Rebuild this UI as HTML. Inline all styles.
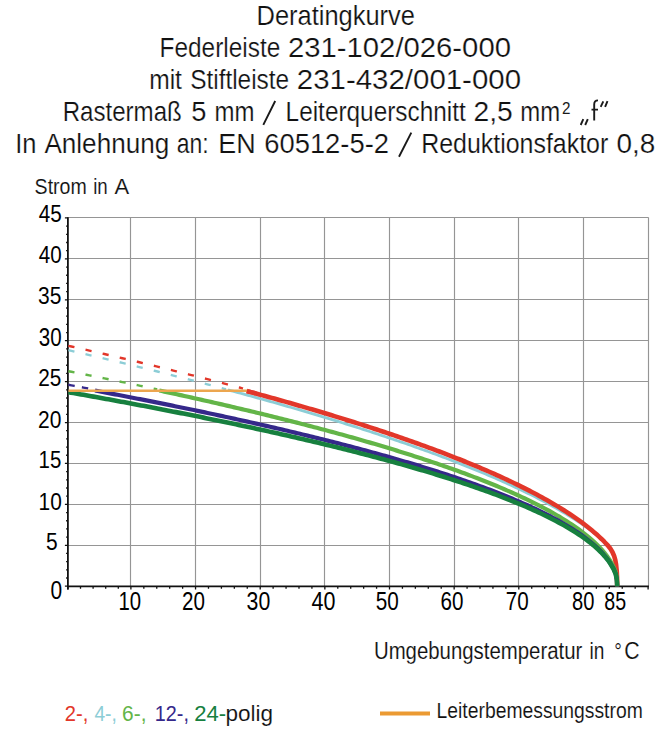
<!DOCTYPE html>
<html><head><meta charset="utf-8"><style>
html,body{margin:0;padding:0;background:#fff;}
body{width:672px;height:744px;overflow:hidden;font-family:"Liberation Sans",sans-serif;}
svg{display:block;}
</style></head><body>
<svg width="672" height="744" viewBox="0 0 672 744">
<rect width="672" height="744" fill="#fff"/>
<line x1="130.50" y1="217.5" x2="130.50" y2="586.3" stroke="#959595" stroke-width="1.15"/>
<line x1="195.50" y1="217.5" x2="195.50" y2="586.3" stroke="#959595" stroke-width="1.15"/>
<line x1="260.50" y1="217.5" x2="260.50" y2="586.3" stroke="#959595" stroke-width="1.15"/>
<line x1="324.50" y1="217.5" x2="324.50" y2="586.3" stroke="#959595" stroke-width="1.15"/>
<line x1="389.50" y1="217.5" x2="389.50" y2="586.3" stroke="#959595" stroke-width="1.15"/>
<line x1="454.50" y1="217.5" x2="454.50" y2="586.3" stroke="#959595" stroke-width="1.15"/>
<line x1="518.50" y1="217.5" x2="518.50" y2="586.3" stroke="#959595" stroke-width="1.15"/>
<line x1="583.50" y1="217.5" x2="583.50" y2="586.3" stroke="#959595" stroke-width="1.15"/>
<line x1="648.50" y1="217.5" x2="648.50" y2="586.3" stroke="#959595" stroke-width="1.15"/>
<line x1="67.9" y1="545.50" x2="648.6" y2="545.50" stroke="#959595" stroke-width="1.15"/>
<line x1="67.9" y1="504.50" x2="648.6" y2="504.50" stroke="#959595" stroke-width="1.15"/>
<line x1="67.9" y1="463.50" x2="648.6" y2="463.50" stroke="#959595" stroke-width="1.15"/>
<line x1="67.9" y1="422.50" x2="648.6" y2="422.50" stroke="#959595" stroke-width="1.15"/>
<line x1="67.9" y1="381.50" x2="648.6" y2="381.50" stroke="#959595" stroke-width="1.15"/>
<line x1="67.9" y1="340.50" x2="648.6" y2="340.50" stroke="#959595" stroke-width="1.15"/>
<line x1="67.9" y1="299.50" x2="648.6" y2="299.50" stroke="#959595" stroke-width="1.15"/>
<line x1="67.9" y1="258.50" x2="648.6" y2="258.50" stroke="#959595" stroke-width="1.15"/>
<line x1="67.9" y1="217.50" x2="648.6" y2="217.50" stroke="#959595" stroke-width="1.15"/>
<path d="M64.90 586.20H67.9 M66.10 578.02H67.9 M66.10 569.83H67.9 M66.10 561.65H67.9 M66.10 553.47H67.9 M64.90 545.29H67.9 M66.10 537.10H67.9 M66.10 528.92H67.9 M66.10 520.74H67.9 M66.10 512.55H67.9 M64.90 504.37H67.9 M66.10 496.19H67.9 M66.10 488.00H67.9 M66.10 479.82H67.9 M66.10 471.64H67.9 M64.90 463.46H67.9 M66.10 455.27H67.9 M66.10 447.09H67.9 M66.10 438.91H67.9 M66.10 430.72H67.9 M64.90 422.54H67.9 M66.10 414.36H67.9 M66.10 406.17H67.9 M66.10 397.99H67.9 M66.10 389.81H67.9 M64.90 381.63H67.9 M66.10 373.44H67.9 M66.10 365.26H67.9 M66.10 357.08H67.9 M66.10 348.89H67.9 M64.90 340.71H67.9 M66.10 332.53H67.9 M66.10 324.34H67.9 M66.10 316.16H67.9 M66.10 307.98H67.9 M64.90 299.80H67.9 M66.10 291.61H67.9 M66.10 283.43H67.9 M66.10 275.25H67.9 M66.10 267.06H67.9 M64.90 258.88H67.9 M66.10 250.70H67.9 M66.10 242.51H67.9 M66.10 234.33H67.9 M66.10 226.15H67.9 M64.90 217.97H67.9 M67.90 586.4V589.4 M80.50 586.4V588.8 M93.10 586.4V588.8 M105.70 586.4V588.8 M118.30 586.4V588.8 M130.90 586.4V589.4 M143.83 586.4V588.8 M156.76 586.4V588.8 M169.69 586.4V588.8 M182.62 586.4V588.8 M195.55 586.4V589.4 M208.48 586.4V588.8 M221.41 586.4V588.8 M234.34 586.4V588.8 M247.27 586.4V588.8 M260.20 586.4V589.4 M273.13 586.4V588.8 M286.06 586.4V588.8 M298.99 586.4V588.8 M311.92 586.4V588.8 M324.85 586.4V589.4 M337.78 586.4V588.8 M350.71 586.4V588.8 M363.64 586.4V588.8 M376.57 586.4V588.8 M389.50 586.4V589.4 M402.43 586.4V588.8 M415.36 586.4V588.8 M428.29 586.4V588.8 M441.22 586.4V588.8 M454.15 586.4V589.4 M467.08 586.4V588.8 M480.01 586.4V588.8 M492.94 586.4V588.8 M505.87 586.4V588.8 M518.80 586.4V589.4 M531.73 586.4V588.8 M544.66 586.4V588.8 M557.59 586.4V588.8 M570.52 586.4V588.8 M583.45 586.4V589.4 M596.38 586.4V588.8 M609.31 586.4V588.8 M622.24 586.4V588.8 M635.17 586.4V588.8 M648.10 586.4V589.4" stroke="#111" stroke-width="1.3" fill="none"/>
<line x1="67.9" y1="217.3" x2="67.9" y2="589.6" stroke="#111" stroke-width="1.8"/>
<line x1="67.0" y1="586.35" x2="648.9" y2="586.35" stroke="#111" stroke-width="1.6"/>
<polyline points="68.40,345.81 71.40,346.48 74.40,347.16 77.40,347.84 80.40,348.52 83.40,349.20 86.40,349.88 89.40,350.57 92.40,351.25 95.40,351.94 98.40,352.63 101.40,353.33 104.40,354.02 107.40,354.72 110.40,355.41 113.40,356.12 116.40,356.82 119.40,357.52 122.40,358.23 125.40,358.94 128.40,359.65 131.40,360.36 134.40,361.07 137.40,361.79 140.40,362.51 143.40,363.23 146.40,363.95 149.40,364.67 152.40,365.40 155.40,366.13 158.40,366.86 161.40,367.60 164.40,368.33 167.40,369.07 170.40,369.81 173.40,370.55 176.40,371.30 179.40,372.05 182.40,372.80 185.40,373.55 188.40,374.30 191.40,375.06 194.40,375.82 197.40,376.58 200.40,377.35 203.40,378.11 206.40,378.88 209.40,379.66 212.40,380.43 215.40,381.21 218.40,381.99 221.40,382.77 224.40,383.56 227.40,384.35 230.40,385.14 233.40,385.93 236.40,386.73 239.40,387.53 242.40,388.33 243.00,388.50" fill="none" stroke="#e2372a" stroke-width="2.4" stroke-dasharray="6.2 11.35"/>
<polyline points="68.40,350.18 71.40,350.87 74.40,351.57 77.40,352.27 80.40,352.97 83.40,353.67 86.40,354.37 89.40,355.07 92.40,355.78 95.40,356.49 98.40,357.19 101.40,357.91 104.40,358.62 107.40,359.33 110.40,360.05 113.40,360.77 116.40,361.49 119.40,362.21 122.40,362.93 125.40,363.66 128.40,364.39 131.40,365.12 134.40,365.85 137.40,366.58 140.40,367.32 143.40,368.06 146.40,368.80 149.40,369.54 152.40,370.28 155.40,371.03 158.40,371.78 161.40,372.53 164.40,373.28 167.40,374.03 170.40,374.79 173.40,375.55 176.40,376.31 179.40,377.07 182.40,377.84 185.40,378.61 188.40,379.38 191.40,380.15 194.40,380.93 197.40,381.70 200.40,382.48 203.40,383.27 206.40,384.05 209.40,384.84 212.40,385.63 215.40,386.42 218.40,387.21 221.40,388.01 224.40,388.81 226.00,389.24" fill="none" stroke="#8ccdd6" stroke-width="2.4" stroke-dasharray="6.2 11.35"/>
<polyline points="68.40,371.20 71.40,371.79 74.40,372.38 77.40,372.97 80.40,373.56 83.40,374.16 86.40,374.76 89.40,375.36 92.40,375.96 95.40,376.56 98.40,377.16 101.40,377.77 104.40,378.38 107.40,378.99 110.40,379.60 113.40,380.21 116.40,380.82 119.40,381.44 122.40,382.06 125.40,382.68 128.40,383.30 131.40,383.93 134.40,384.55 137.40,385.18 140.40,385.81 143.40,386.44 146.40,387.07 149.40,387.71 152.40,388.35 155.40,388.99 157.20,389.37" fill="none" stroke="#63b548" stroke-width="2.4" stroke-dasharray="6.2 11.2"/>
<polyline points="68.40,384.79 71.40,385.35 74.40,385.90 77.40,386.45 80.40,387.01 83.40,387.56 86.40,388.12 89.40,388.68 92.40,389.24 95.00,389.73" fill="none" stroke="#35288a" stroke-width="2.4" stroke-dasharray="6.4 7.3"/>
<path d="M228.00,389.88 L230.50,390.55 233.00,391.22 235.50,391.90 238.00,392.57 240.50,393.25 243.00,393.93 245.50,394.62 248.00,395.30 250.50,395.99 253.00,396.68 255.50,397.37 258.00,398.06 260.50,398.76 263.00,399.45 265.50,400.15 268.00,400.85 270.50,401.56 273.00,402.26 275.50,402.97 278.00,403.68 280.50,404.39 283.00,405.11 285.50,405.83 288.00,406.54 290.50,407.27 293.00,407.99 295.50,408.72 298.00,409.45 300.50,410.18 303.00,410.91 305.50,411.65 308.00,412.39 310.50,413.13 313.00,413.87 315.50,414.62 318.00,415.37 320.50,416.12 323.00,416.88 325.50,417.63 328.00,418.39 330.50,419.16 333.00,419.92 335.50,420.69 338.00,421.46 340.50,422.24 343.00,423.01 345.50,423.80 348.00,424.58 350.50,425.37 353.00,426.16 355.50,426.95 358.00,427.74 360.50,428.54 363.00,429.35 365.50,430.15 368.00,430.96 370.50,431.78 373.00,432.59 375.50,433.41 378.00,434.24 380.50,435.06 383.00,435.90 385.50,436.73 388.00,437.57 390.50,438.41 393.00,439.26 395.50,440.11 398.00,440.96 400.50,441.82 403.00,442.68 405.50,443.55 408.00,444.42 410.50,445.30 413.00,446.18 415.50,447.06 418.00,447.95 420.50,448.84 423.00,449.74 425.50,450.65 428.00,451.55 430.50,452.47 433.00,453.39 435.50,454.31 438.00,455.24 440.50,456.17 443.00,457.11 445.50,458.06 448.00,459.01 450.50,459.97 453.00,460.93 455.50,461.90 458.00,462.87 460.50,463.85 463.00,464.84 465.50,465.83 468.00,466.84 470.50,467.84 473.00,468.86 475.50,469.88 478.00,470.91 480.50,471.95 483.00,472.99 485.50,474.04 488.00,475.10 490.50,476.17 493.00,477.25 495.50,478.34 498.00,479.43 500.50,480.53 503.00,481.65 505.50,482.77 508.00,483.90 510.50,485.05 513.00,486.20 515.50,487.37 518.00,488.54 520.50,489.73 523.00,490.93 525.50,492.14 528.00,493.37 530.50,494.60 533.00,495.86 535.50,497.12 538.00,498.40 540.50,499.70 543.00,501.01 545.50,502.34 548.00,503.69 550.50,505.05 553.00,506.43 555.50,507.84 558.00,509.26 560.50,510.70 563.00,512.17 565.50,513.66 568.00,515.18 570.50,516.72 573.00,518.29 575.50,519.90 578.00,521.53 580.50,523.20 583.00,524.90 585.50,526.65 588.00,528.43 590.50,530.26 593.00,532.15 595.50,534.08 598.00,536.08 600.50,538.14 603.00,540.28 605.50,542.50 606.00,542.95 C614.74,550.93 617.20,560.45 617.20,586.2" fill="none" stroke="#8ccdd6" stroke-width="2.8" stroke-linejoin="round"/>
<path d="M246.80,391.02 L249.30,391.69 251.80,392.37 254.30,393.05 256.80,393.73 259.30,394.42 261.80,395.10 264.30,395.79 266.80,396.48 269.30,397.17 271.80,397.87 274.30,398.57 276.80,399.27 279.30,399.97 281.80,400.67 284.30,401.38 286.80,402.09 289.30,402.80 291.80,403.52 294.30,404.23 296.80,404.95 299.30,405.68 301.80,406.40 304.30,407.13 306.80,407.86 309.30,408.59 311.80,409.33 314.30,410.07 316.80,410.81 319.30,411.55 321.80,412.30 324.30,413.05 326.80,413.80 329.30,414.56 331.80,415.32 334.30,416.08 336.80,416.85 339.30,417.61 341.80,418.38 344.30,419.16 346.80,419.94 349.30,420.72 351.80,421.50 354.30,422.29 356.80,423.08 359.30,423.88 361.80,424.68 364.30,425.48 366.80,426.28 369.30,427.09 371.80,427.91 374.30,428.72 376.80,429.54 379.30,430.37 381.80,431.20 384.30,432.03 386.80,432.87 389.30,433.71 391.80,434.55 394.30,435.40 396.80,436.26 399.30,437.11 401.80,437.98 404.30,438.84 406.80,439.72 409.30,440.59 411.80,441.47 414.30,442.36 416.80,443.25 419.30,444.15 421.80,445.05 424.30,445.96 426.80,446.87 429.30,447.79 431.80,448.71 434.30,449.64 436.80,450.57 439.30,451.51 441.80,452.46 444.30,453.41 446.80,454.37 449.30,455.33 451.80,456.30 454.30,457.28 456.80,458.27 459.30,459.26 461.80,460.26 464.30,461.26 466.80,462.28 469.30,463.30 471.80,464.32 474.30,465.36 476.80,466.41 479.30,467.46 481.80,468.52 484.30,469.59 486.80,470.67 489.30,471.75 491.80,472.85 494.30,473.96 496.80,475.08 499.30,476.20 501.80,477.34 504.30,478.49 506.80,479.65 509.30,480.82 511.80,482.00 514.30,483.20 516.80,484.40 519.30,485.63 521.80,486.86 524.30,488.11 526.80,489.37 529.30,490.65 531.80,491.94 534.30,493.25 536.80,494.58 539.30,495.92 541.80,497.28 544.30,498.66 546.80,500.06 549.30,501.49 551.80,502.93 554.30,504.39 556.80,505.89 559.30,507.40 561.80,508.94 564.30,510.51 566.80,512.11 569.30,513.74 571.80,515.41 574.30,517.11 576.80,518.85 579.30,520.63 581.80,522.46 584.30,524.33 586.80,526.25 589.30,528.24 591.80,530.28 594.30,532.39 596.80,534.58 599.30,536.86 601.80,539.23 604.30,541.72 606.80,544.33 608.00,545.64 C615.18,553.58 617.20,562.50 617.20,586.2" fill="none" stroke="#e2372a" stroke-width="4.6" stroke-linejoin="round"/>
<path d="M159.30,390.52 L161.80,391.06 164.30,391.60 166.80,392.14 169.30,392.68 171.80,393.22 174.30,393.77 176.80,394.31 179.30,394.86 181.80,395.41 184.30,395.96 186.80,396.51 189.30,397.07 191.80,397.62 194.30,398.18 196.80,398.74 199.30,399.30 201.80,399.86 204.30,400.43 206.80,400.99 209.30,401.56 211.80,402.13 214.30,402.70 216.80,403.27 219.30,403.85 221.80,404.42 224.30,405.00 226.80,405.58 229.30,406.16 231.80,406.75 234.30,407.33 236.80,407.92 239.30,408.51 241.80,409.10 244.30,409.69 246.80,410.29 249.30,410.88 251.80,411.48 254.30,412.08 256.80,412.69 259.30,413.29 261.80,413.90 264.30,414.51 266.80,415.12 269.30,415.73 271.80,416.35 274.30,416.97 276.80,417.59 279.30,418.21 281.80,418.84 284.30,419.46 286.80,420.09 289.30,420.73 291.80,421.36 294.30,422.00 296.80,422.64 299.30,423.28 301.80,423.92 304.30,424.57 306.80,425.22 309.30,425.87 311.80,426.53 314.30,427.18 316.80,427.84 319.30,428.51 321.80,429.17 324.30,429.84 326.80,430.51 329.30,431.19 331.80,431.86 334.30,432.54 336.80,433.23 339.30,433.91 341.80,434.60 344.30,435.29 346.80,435.99 349.30,436.69 351.80,437.39 354.30,438.09 356.80,438.80 359.30,439.51 361.80,440.23 364.30,440.95 366.80,441.67 369.30,442.39 371.80,443.12 374.30,443.86 376.80,444.59 379.30,445.33 381.80,446.08 384.30,446.83 386.80,447.58 389.30,448.34 391.80,449.10 394.30,449.86 396.80,450.63 399.30,451.40 401.80,452.18 404.30,452.96 406.80,453.75 409.30,454.54 411.80,455.34 414.30,456.14 416.80,456.95 419.30,457.76 421.80,458.57 424.30,459.39 426.80,460.22 429.30,461.05 431.80,461.89 434.30,462.73 436.80,463.58 439.30,464.44 441.80,465.30 444.30,466.16 446.80,467.04 449.30,467.92 451.80,468.80 454.30,469.69 456.80,470.59 459.30,471.50 461.80,472.41 464.30,473.33 466.80,474.26 469.30,475.20 471.80,476.14 474.30,477.09 476.80,478.05 479.30,479.02 481.80,480.00 484.30,480.98 486.80,481.98 489.30,482.98 491.80,484.00 494.30,485.02 496.80,486.06 499.30,487.10 501.80,488.16 504.30,489.23 506.80,490.31 509.30,491.40 511.80,492.50 514.30,493.62 516.80,494.75 519.30,495.89 521.80,497.05 524.30,498.23 526.80,499.42 529.30,500.62 531.80,501.85 534.30,503.09 536.80,504.34 539.30,505.62 541.80,506.92 544.30,508.24 546.80,509.58 549.30,510.95 551.80,512.34 554.30,513.76 556.80,515.20 559.30,516.67 561.80,518.18 564.30,519.72 566.80,521.29 569.30,522.90 571.80,524.56 574.30,526.26 576.80,528.00 579.30,529.80 581.80,531.66 584.30,533.58 586.80,535.58 589.30,537.65 591.80,539.81 594.30,542.08 596.80,544.47 599.30,546.99 601.80,549.69 604.30,552.59 606.80,555.76 608.00,557.40 C615.18,567.48 617.20,573.82 617.20,586.2" fill="none" stroke="#63b548" stroke-width="4.2" stroke-linejoin="round"/>
<path d="M95.00,390.53 L97.50,391.00 100.00,391.47 102.50,391.94 105.00,392.42 107.50,392.89 110.00,393.37 112.50,393.85 115.00,394.33 117.50,394.80 120.00,395.29 122.50,395.77 125.00,396.25 127.50,396.74 130.00,397.22 132.50,397.71 135.00,398.20 137.50,398.69 140.00,399.18 142.50,399.67 145.00,400.16 147.50,400.66 150.00,401.15 152.50,401.65 155.00,402.15 157.50,402.65 160.00,403.15 162.50,403.65 165.00,404.16 167.50,404.66 170.00,405.17 172.50,405.68 175.00,406.19 177.50,406.70 180.00,407.21 182.50,407.72 185.00,408.24 187.50,408.76 190.00,409.27 192.50,409.79 195.00,410.32 197.50,410.84 200.00,411.36 202.50,411.89 205.00,412.42 207.50,412.95 210.00,413.48 212.50,414.01 215.00,414.54 217.50,415.08 220.00,415.62 222.50,416.16 225.00,416.70 227.50,417.24 230.00,417.79 232.50,418.33 235.00,418.88 237.50,419.43 240.00,419.98 242.50,420.53 245.00,421.09 247.50,421.65 250.00,422.21 252.50,422.77 255.00,423.33 257.50,423.89 260.00,424.46 262.50,425.03 265.00,425.60 267.50,426.17 270.00,426.75 272.50,427.33 275.00,427.90 277.50,428.49 280.00,429.07 282.50,429.65 285.00,430.24 287.50,430.83 290.00,431.42 292.50,432.02 295.00,432.61 297.50,433.21 300.00,433.81 302.50,434.42 305.00,435.02 307.50,435.63 310.00,436.24 312.50,436.86 315.00,437.47 317.50,438.09 320.00,438.71 322.50,439.33 325.00,439.96 327.50,440.59 330.00,441.22 332.50,441.86 335.00,442.49 337.50,443.13 340.00,443.77 342.50,444.42 345.00,445.07 347.50,445.72 350.00,446.38 352.50,447.03 355.00,447.69 357.50,448.36 360.00,449.02 362.50,449.70 365.00,450.37 367.50,451.05 370.00,451.73 372.50,452.41 375.00,453.10 377.50,453.79 380.00,454.48 382.50,455.18 385.00,455.88 387.50,456.59 390.00,457.30 392.50,458.01 395.00,458.73 397.50,459.45 400.00,460.17 402.50,460.90 405.00,461.64 407.50,462.38 410.00,463.12 412.50,463.86 415.00,464.62 417.50,465.37 420.00,466.13 422.50,466.90 425.00,467.67 427.50,468.45 430.00,469.23 432.50,470.01 435.00,470.80 437.50,471.60 440.00,472.40 442.50,473.21 445.00,474.02 447.50,474.84 450.00,475.67 452.50,476.50 455.00,477.34 457.50,478.18 460.00,479.03 462.50,479.89 465.00,480.76 467.50,481.63 470.00,482.51 472.50,483.39 475.00,484.29 477.50,485.19 480.00,486.10 482.50,487.02 485.00,487.95 487.50,488.88 490.00,489.83 492.50,490.78 495.00,491.74 497.50,492.72 500.00,493.70 502.50,494.69 505.00,495.70 507.50,496.71 510.00,497.74 512.50,498.78 515.00,499.83 517.50,500.90 520.00,501.97 522.50,503.07 525.00,504.17 527.50,505.29 530.00,506.43 532.50,507.58 535.00,508.75 537.50,509.94 540.00,511.15 542.50,512.37 545.00,513.62 547.50,514.89 550.00,516.18 552.50,517.49 555.00,518.83 557.50,520.20 560.00,521.59 562.50,523.02 565.00,524.47 567.50,525.97 570.00,527.50 572.50,529.07 575.00,530.68 577.50,532.34 580.00,534.06 582.50,535.83 585.00,537.66 587.50,539.57 590.00,541.55 592.50,543.63 595.00,545.81 597.50,548.11 600.00,550.56 602.50,553.18 605.00,556.02 607.50,559.16 610.00,562.69 C615.62,571.21 617.20,576.38 617.20,586.2" fill="none" stroke="#35288a" stroke-width="4.2" stroke-linejoin="round"/>
<path d="M68.50,392.17 L71.00,392.61 73.50,393.06 76.00,393.50 78.50,393.94 81.00,394.39 83.50,394.83 86.00,395.28 88.50,395.73 91.00,396.18 93.50,396.63 96.00,397.08 98.50,397.53 101.00,397.98 103.50,398.44 106.00,398.89 108.50,399.35 111.00,399.81 113.50,400.27 116.00,400.73 118.50,401.19 121.00,401.65 123.50,402.11 126.00,402.58 128.50,403.04 131.00,403.51 133.50,403.98 136.00,404.45 138.50,404.92 141.00,405.39 143.50,405.86 146.00,406.34 148.50,406.81 151.00,407.29 153.50,407.77 156.00,408.25 158.50,408.73 161.00,409.21 163.50,409.70 166.00,410.18 168.50,410.67 171.00,411.15 173.50,411.64 176.00,412.13 178.50,412.63 181.00,413.12 183.50,413.61 186.00,414.11 188.50,414.61 191.00,415.11 193.50,415.61 196.00,416.11 198.50,416.61 201.00,417.12 203.50,417.62 206.00,418.13 208.50,418.64 211.00,419.15 213.50,419.66 216.00,420.18 218.50,420.69 221.00,421.21 223.50,421.73 226.00,422.25 228.50,422.77 231.00,423.30 233.50,423.82 236.00,424.35 238.50,424.88 241.00,425.41 243.50,425.95 246.00,426.48 248.50,427.02 251.00,427.56 253.50,428.10 256.00,428.64 258.50,429.18 261.00,429.73 263.50,430.27 266.00,430.82 268.50,431.38 271.00,431.93 273.50,432.49 276.00,433.04 278.50,433.60 281.00,434.16 283.50,434.73 286.00,435.29 288.50,435.86 291.00,436.43 293.50,437.01 296.00,437.58 298.50,438.16 301.00,438.74 303.50,439.32 306.00,439.90 308.50,440.49 311.00,441.08 313.50,441.67 316.00,442.26 318.50,442.86 321.00,443.46 323.50,444.06 326.00,444.66 328.50,445.27 331.00,445.88 333.50,446.49 336.00,447.10 338.50,447.72 341.00,448.34 343.50,448.96 346.00,449.59 348.50,450.22 351.00,450.85 353.50,451.48 356.00,452.12 358.50,452.76 361.00,453.40 363.50,454.05 366.00,454.70 368.50,455.35 371.00,456.01 373.50,456.67 376.00,457.33 378.50,458.00 381.00,458.67 383.50,459.34 386.00,460.02 388.50,460.70 391.00,461.39 393.50,462.08 396.00,462.77 398.50,463.46 401.00,464.16 403.50,464.87 406.00,465.58 408.50,466.29 411.00,467.01 413.50,467.73 416.00,468.46 418.50,469.19 421.00,469.92 423.50,470.66 426.00,471.41 428.50,472.15 431.00,472.91 433.50,473.67 436.00,474.43 438.50,475.20 441.00,475.98 443.50,476.76 446.00,477.55 448.50,478.34 451.00,479.14 453.50,479.94 456.00,480.75 458.50,481.57 461.00,482.39 463.50,483.22 466.00,484.06 468.50,484.90 471.00,485.76 473.50,486.61 476.00,487.48 478.50,488.35 481.00,489.23 483.50,490.12 486.00,491.02 488.50,491.93 491.00,492.84 493.50,493.77 496.00,494.70 498.50,495.64 501.00,496.60 503.50,497.56 506.00,498.54 508.50,499.52 511.00,500.52 513.50,501.53 516.00,502.55 518.50,503.58 521.00,504.63 523.50,505.69 526.00,506.76 528.50,507.85 531.00,508.96 533.50,510.08 536.00,511.21 538.50,512.37 541.00,513.54 543.50,514.74 546.00,515.95 548.50,517.18 551.00,518.44 553.50,519.72 556.00,521.03 558.50,522.36 561.00,523.72 563.50,525.11 566.00,526.54 568.50,528.00 571.00,529.49 573.50,531.03 576.00,532.61 578.50,534.24 581.00,535.93 583.50,537.67 586.00,539.47 588.50,541.35 591.00,543.31 593.50,545.36 596.00,547.53 598.50,549.81 601.00,552.26 603.50,554.89 606.00,557.76 608.50,560.95 610.00,563.07 C615.62,571.37 617.20,576.46 617.20,586.2" fill="none" stroke="#17803f" stroke-width="4.6" stroke-linejoin="round"/>
<line x1="68.5" y1="390.80" x2="249" y2="390.80" stroke="#eca64f" stroke-width="2.5"/>
<polyline points="246.80,391.02 248.80,391.56 250.80,392.10 252.80,392.64 254.80,393.19 256.00,393.51" fill="none" stroke="#e2372a" stroke-width="4.4"/>
<path d="M263.3 124.8L275.2 101M399 156.8L411.3 132.6M580.7 125L583.3 119.2M585.2 125L587.8 119.2M600.7 106.8L603.3 101.3M605.1 106.8L607.5 101.1M594.2 120.6V104.3Q594.2 100.4 598 100.4M591.5 109.6H598" stroke="#1a1a1a" stroke-width="1.9" fill="none"/>
<text transform="matrix(0.9000 0 0 1.0000 256.50 24.55)" font-family="Liberation Sans, sans-serif" font-size="28.30" fill="#111111" stroke="#fff" stroke-width="0.22">Deratingkurve</text>
<text transform="matrix(0.8635 0 0 1.0000 159.47 56.70)" font-family="Liberation Sans, sans-serif" font-size="28.30" fill="#111111" stroke="#fff" stroke-width="0.22">Federleiste</text>
<text transform="matrix(1.0350 0 0 1.0000 287.96 56.70)" font-family="Liberation Sans, sans-serif" font-size="28.30" fill="#111111" stroke="#fff" stroke-width="0.22">231-102/026-000</text>
<text transform="matrix(0.8694 0 0 1.0000 149.16 89.00)" font-family="Liberation Sans, sans-serif" font-size="28.30" fill="#111111" stroke="#fff" stroke-width="0.22">mit</text>
<text transform="matrix(0.8628 0 0 1.0000 190.14 89.00)" font-family="Liberation Sans, sans-serif" font-size="28.30" fill="#111111" stroke="#fff" stroke-width="0.22">Stiftleiste</text>
<text transform="matrix(1.0402 0 0 1.0000 296.86 89.00)" font-family="Liberation Sans, sans-serif" font-size="28.30" fill="#111111" stroke="#fff" stroke-width="0.22">231-432/001-000</text>
<text transform="matrix(0.8511 0 0 1.0000 62.70 120.60)" font-family="Liberation Sans, sans-serif" font-size="28.30" fill="#111111" stroke="#fff" stroke-width="0.22">Rasterma&#223;</text>
<text transform="matrix(0.9643 0 0 1.0000 191.34 120.60)" font-family="Liberation Sans, sans-serif" font-size="28.30" fill="#111111" stroke="#fff" stroke-width="0.22">5</text>
<text transform="matrix(0.8477 0 0 1.0000 214.55 120.60)" font-family="Liberation Sans, sans-serif" font-size="28.30" fill="#111111" stroke="#fff" stroke-width="0.22">mm</text>
<text transform="matrix(0.8614 0 0 1.0000 285.58 120.60)" font-family="Liberation Sans, sans-serif" font-size="28.30" fill="#111111" stroke="#fff" stroke-width="0.22">Leiterquerschnitt</text>
<text transform="matrix(0.9973 0 0 1.0000 473.50 120.60)" font-family="Liberation Sans, sans-serif" font-size="28.30" fill="#111111" stroke="#fff" stroke-width="0.22">2,5</text>
<text transform="matrix(0.8465 0 0 1.0000 520.21 120.60)" font-family="Liberation Sans, sans-serif" font-size="28.30" fill="#111111" stroke="#fff" stroke-width="0.22">mm</text>
<text transform="matrix(1.0143 0 0 1.0750 561.99 113.85)" font-family="Liberation Sans, sans-serif" font-size="15.00" fill="#1a1a1a">2</text>
<text transform="matrix(0.9000 0 0 1.0000 15.20 152.60)" font-family="Liberation Sans, sans-serif" font-size="28.30" fill="#111111" stroke="#fff" stroke-width="0.22">In</text>
<text transform="matrix(0.9224 0 0 1.0000 44.40 152.60)" font-family="Liberation Sans, sans-serif" font-size="28.30" fill="#111111" stroke="#fff" stroke-width="0.22">Anlehnung</text>
<text transform="matrix(0.8111 0 0 1.0000 176.69 152.60)" font-family="Liberation Sans, sans-serif" font-size="28.30" fill="#111111" stroke="#fff" stroke-width="0.22">an:</text>
<text transform="matrix(0.9514 0 0 1.0000 218.30 152.60)" font-family="Liberation Sans, sans-serif" font-size="28.30" fill="#111111" stroke="#fff" stroke-width="0.22">EN</text>
<text transform="matrix(0.9677 0 0 1.0000 264.23 152.60)" font-family="Liberation Sans, sans-serif" font-size="28.30" fill="#111111" stroke="#fff" stroke-width="0.22">60512-5-2</text>
<text transform="matrix(0.8814 0 0 1.0000 421.24 152.60)" font-family="Liberation Sans, sans-serif" font-size="28.30" fill="#111111" stroke="#fff" stroke-width="0.22">Reduktionsfaktor</text>
<text transform="matrix(0.9865 0 0 1.0000 616.51 152.60)" font-family="Liberation Sans, sans-serif" font-size="28.30" fill="#111111" stroke="#fff" stroke-width="0.22">0,8</text>
<text transform="matrix(0.8772 0 0 1.0000 34.62 193.60)" font-family="Liberation Sans, sans-serif" font-size="22.30" fill="#111111" stroke="#fff" stroke-width="0.12">Strom</text>
<text transform="matrix(0.8400 0 0 1.0000 93.16 193.60)" font-family="Liberation Sans, sans-serif" font-size="22.30" fill="#111111" stroke="#fff" stroke-width="0.12">in</text>
<text transform="matrix(0.9867 0 0 1.0000 114.40 193.60)" font-family="Liberation Sans, sans-serif" font-size="22.30" fill="#111111" stroke="#fff" stroke-width="0.12">A</text>
<text transform="matrix(0.8863 0 0 1.0000 373.93 659.00)" font-family="Liberation Sans, sans-serif" font-size="23.00" fill="#111111" stroke="#fff" stroke-width="0.12">Umgebungstemperatur</text>
<text transform="matrix(0.8313 0 0 1.0000 589.57 659.00)" font-family="Liberation Sans, sans-serif" font-size="23.00" fill="#111111" stroke="#fff" stroke-width="0.12">in</text>
<text transform="matrix(0.8286 0 0 1.0000 614.17 659.00)" font-family="Liberation Sans, sans-serif" font-size="23.00" fill="#111111" stroke="#fff" stroke-width="0.12">&#176;</text>
<text transform="matrix(0.9267 0 0 1.0000 624.27 659.00)" font-family="Liberation Sans, sans-serif" font-size="23.00" fill="#111111" stroke="#fff" stroke-width="0.12">C</text>
<text transform="matrix(0.8875 0 0 1.0000 64.81 721.30)" font-family="Liberation Sans, sans-serif" font-size="22.70" fill="#e2372a">2-,</text>
<text transform="matrix(0.8480 0 0 1.0000 94.40 721.30)" font-family="Liberation Sans, sans-serif" font-size="22.70" fill="#8ccdd6">4-,</text>
<text transform="matrix(0.9208 0 0 1.0000 122.08 721.30)" font-family="Liberation Sans, sans-serif" font-size="22.70" fill="#63b548">6-,</text>
<text transform="matrix(0.8714 0 0 1.0000 154.86 721.30)" font-family="Liberation Sans, sans-serif" font-size="22.70" fill="#35288a">12-,</text>
<text transform="matrix(0.9710 0 0 1.0000 194.33 721.30)" font-family="Liberation Sans, sans-serif" font-size="22.70" fill="#17803f">24-</text>
<text transform="matrix(0.9935 0 0 1.0000 225.51 721.30)" font-family="Liberation Sans, sans-serif" font-size="22.70" fill="#111111" stroke="#fff" stroke-width="0.12">polig</text>
<text transform="matrix(0.8668 0 0 1.0000 436.57 718.40)" font-family="Liberation Sans, sans-serif" font-size="22.30" fill="#111111" stroke="#fff" stroke-width="0.12">Leiterbemessungsstrom</text>
<text transform="matrix(0.8558 0 0 0.9941 38.75 222.10)" font-family="Liberation Sans, sans-serif" font-size="24.20" fill="#000">45</text>
<text transform="matrix(0.8500 0 0 1.0235 38.70 263.40)" font-family="Liberation Sans, sans-serif" font-size="24.20" fill="#000">40</text>
<text transform="matrix(0.8680 0 0 0.9941 38.03 304.20)" font-family="Liberation Sans, sans-serif" font-size="24.20" fill="#000">35</text>
<text transform="matrix(0.8480 0 0 1.0529 38.75 345.80)" font-family="Liberation Sans, sans-serif" font-size="24.20" fill="#000">30</text>
<text transform="matrix(0.8600 0 0 1.0059 38.14 385.80)" font-family="Liberation Sans, sans-serif" font-size="24.20" fill="#000">25</text>
<text transform="matrix(0.8680 0 0 1.0000 38.03 427.60)" font-family="Liberation Sans, sans-serif" font-size="24.20" fill="#000">20</text>
<text transform="matrix(0.8458 0 0 0.9941 38.61 468.00)" font-family="Liberation Sans, sans-serif" font-size="24.20" fill="#000">15</text>
<text transform="matrix(0.8625 0 0 1.0235 38.57 509.80)" font-family="Liberation Sans, sans-serif" font-size="24.20" fill="#000">10</text>
<text transform="matrix(0.8667 0 0 1.0235 46.03 550.20)" font-family="Liberation Sans, sans-serif" font-size="24.20" fill="#000">5</text>
<text transform="matrix(0.8667 0 0 1.0706 50.43 599.30)" font-family="Liberation Sans, sans-serif" font-size="24.20" fill="#000">0</text>
<text transform="matrix(0.8417 0 0 1.0471 118.42 610.00)" font-family="Liberation Sans, sans-serif" font-size="24.20" fill="#000">10</text>
<text transform="matrix(0.8520 0 0 1.0471 181.95 610.00)" font-family="Liberation Sans, sans-serif" font-size="24.20" fill="#000">20</text>
<text transform="matrix(0.8800 0 0 1.0471 246.62 610.00)" font-family="Liberation Sans, sans-serif" font-size="24.20" fill="#000">30</text>
<text transform="matrix(0.8885 0 0 1.0471 311.50 610.00)" font-family="Liberation Sans, sans-serif" font-size="24.20" fill="#000">40</text>
<text transform="matrix(0.8560 0 0 1.0471 375.74 610.00)" font-family="Liberation Sans, sans-serif" font-size="24.20" fill="#000">50</text>
<text transform="matrix(0.8520 0 0 1.0471 440.45 610.00)" font-family="Liberation Sans, sans-serif" font-size="24.20" fill="#000">60</text>
<text transform="matrix(0.8520 0 0 1.0471 505.85 610.00)" font-family="Liberation Sans, sans-serif" font-size="24.20" fill="#000">70</text>
<text transform="matrix(0.8320 0 0 1.0471 571.97 610.00)" font-family="Liberation Sans, sans-serif" font-size="24.20" fill="#000">80</text>
<text transform="matrix(0.8120 0 0 1.0471 604.29 610.00)" font-family="Liberation Sans, sans-serif" font-size="24.20" fill="#000">85</text>
<line x1="380" y1="713.5" x2="430" y2="713.5" stroke="#eb9a32" stroke-width="4.2"/>
</svg>
</body></html>
